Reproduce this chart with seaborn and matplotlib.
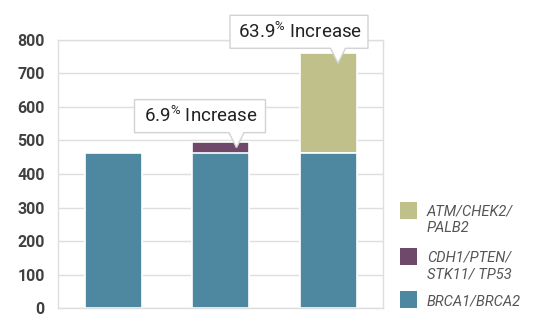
import numpy as np
import pandas as pd
import matplotlib
matplotlib.use("Agg")
import matplotlib.pyplot as plt
import seaborn as sns
import matplotlib.transforms as mtransforms
from matplotlib.patches import Polygon, Rectangle

# ---------------- data ----------------
categories = ["Group 1", "Group 2", "Group 3"]
brca = [463, 463, 463]
cdh1 = [0, 33, 0]
atm = [0, 0, 296]
increase_labels = ["", "6.9", "63.9"]
series_names = ["ATM/CHEK2/\nPALB2", "CDH1/PTEN/\nSTK11/ TP53", "BRCA1/BRCA2"]
y_ticks = [0, 100, 200, 300, 400, 500, 600, 700, 800]

# ---------------- style ----------------
BLUE = "#4E87A0"
PURPLE = "#6E496A"
OLIVE = "#BFC08A"
GRID = "#DEDEDE"

sns.set_theme(style="white")
plt.rcParams["font.family"] = ["Roboto", "DejaVu Sans"]
plt.rcParams["mathtext.fontset"] = "custom"
plt.rcParams["mathtext.rm"] = "Roboto"
plt.rcParams["mathtext.it"] = "Roboto:italic"
plt.rcParams["mathtext.bf"] = "Roboto:bold"

W, H = 555, 332
fig = plt.figure(figsize=(W / 100, H / 100), dpi=100)
ax = fig.add_axes([58 / W, (H - 308.3) / H, 325 / W, 268.8 / H])

df = pd.DataFrame({"category": categories, "brca": brca, "cdh1": cdh1, "atm": atm})
df["l1"] = df["brca"]
df["l2"] = df["brca"] + df["cdh1"]
df["l3"] = df["brca"] + df["cdh1"] + df["atm"]

common = dict(x="category", width=0.53, errorbar=None, saturation=1, ax=ax,
              edgecolor="white", linewidth=1.2)
sns.barplot(data=df, y="l3", color=OLIVE, **common)
sns.barplot(data=df, y="l2", color=PURPLE, **common)
sns.barplot(data=df, y="l1", color=BLUE, **common)

ax.set_ylim(0, 800)
ax.set_xlim(-0.516, 2.507)
ax.set_yticks(y_ticks)
ax.set_xticks([])
ax.set_xlabel("")
ax.set_ylabel("")
ax.set_axisbelow(True)
ax.yaxis.grid(True, color=GRID, linewidth=1)
for s in ax.spines.values():
    s.set_color(GRID)
    s.set_linewidth(1)
ax.tick_params(axis="y", length=0, pad=9.5, labelsize=11.5, labelcolor="#404040")
for lab in ax.get_yticklabels():
    lab.set_fontweight("bold")

# ---------------- callouts ----------------
# pixel offsets (image coords, y down) relative to bar top centre
callout_geom = {
    1: dict(left=-86.5, right=44.5, top=-42, bottom=-9, tip=(15.5, 6), half=7.5),
    2: dict(left=-98.5, right=39.5, top=-38, bottom=-5, tip=(9.5, 10), half=7.5),
}
totals = df["l3"].tolist()
for i, lab in enumerate(increase_labels):
    if not lab:
        continue
    g = callout_geom[i]
    ox, oy = ax.transData.transform((i, totals[i]))
    def P(dx, dy):
        return (ox + dx, oy - dy)
    tx, ty = g["tip"]
    verts = [P(g["left"], g["top"]), P(g["right"], g["top"]), P(g["right"], g["bottom"]),
             P(tx + g["half"], g["bottom"]), P(tx, ty), P(tx - g["half"], g["bottom"]),
             P(g["left"], g["bottom"])]
    poly = Polygon(verts, closed=True, transform=None, facecolor="white",
                   edgecolor="#D2D2D2", linewidth=1, zorder=5)
    fig.add_artist(poly)
    cx, cy = P((g["left"] + g["right"]) / 2 + 1, (g["top"] + g["bottom"]) / 2)
    fig.text(cx / W, cy / H, lab + r"$^{\mathrm{\%}}$" + " Increase", ha="center", va="center",
             fontsize=13.5, color="#222222", zorder=6)

# ---------------- legend ----------------
pix = mtransforms.Affine2D().scale(1, -1).translate(0, H)
legend_colors = [OLIVE, PURPLE, BLUE]
legend_rows = [202, 248, 291]
for name, col, y0 in zip(series_names, legend_colors, legend_rows):
    fig.add_artist(Rectangle((400, y0), 17, 17, transform=pix, facecolor=col,
                             edgecolor="none"))
    fig.text(427 / W, (H - y0 - 3) / H, name, ha="left", va="top", fontsize=10.5,
             style="italic", color="#555555", linespacing=1.2)

fig.savefig("out.png", dpi=100)
